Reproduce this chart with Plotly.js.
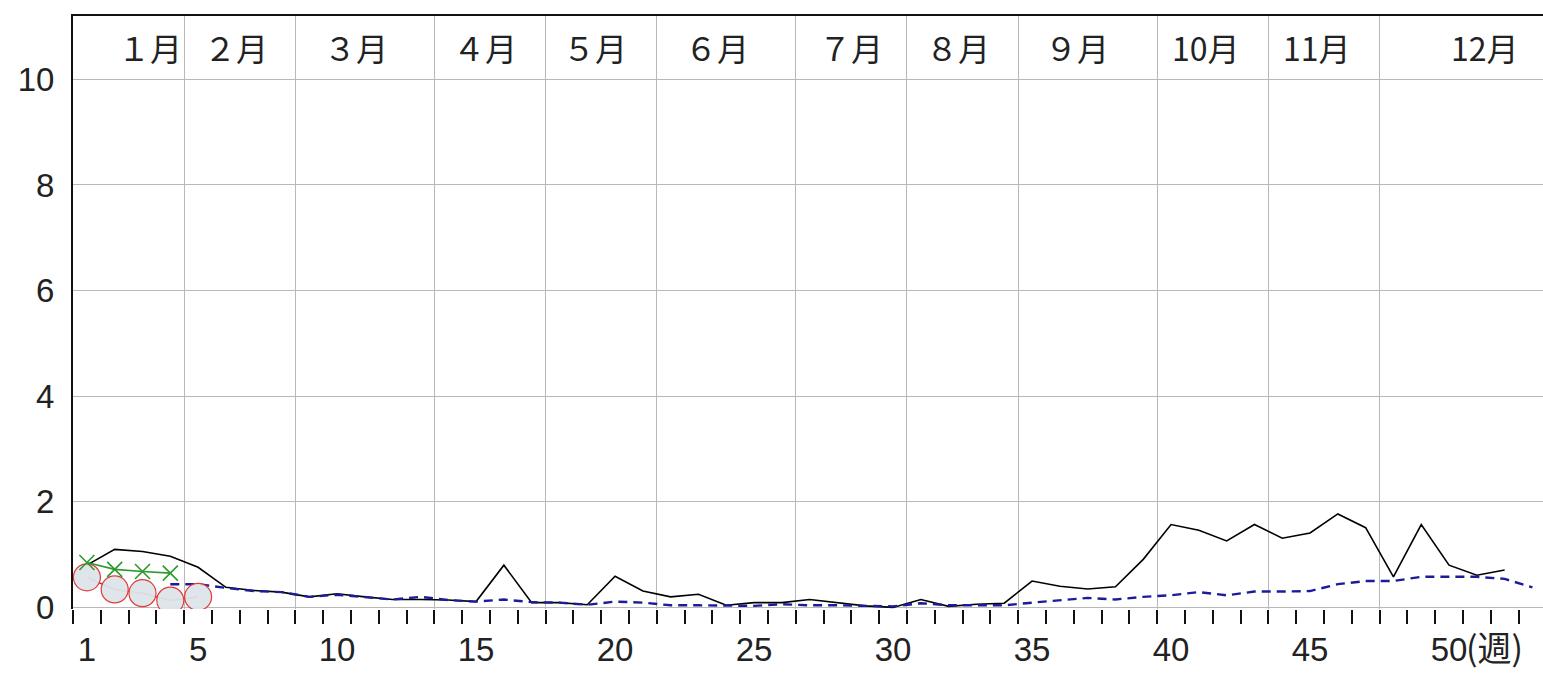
<!DOCTYPE html>
<html>
<head>
<meta charset="utf-8">
<script src="https://cdn.plot.ly/plotly-3.0.1.min.js"></script>
<style>
html,body{margin:0;padding:0;background:#fff;}
#chart{width:1543px;height:677px;}
</style>
</head>
<body>
<div id="chart"></div>
<script>
// ---- data (weekly values) ----
const blackValues = [0.80,1.10,1.06,0.97,0.76,0.38,0.32,0.29,0.20,0.26,0.20,0.15,0.15,0.14,0.11,0.80,0.09,0.09,0.05,0.59,0.31,0.20,0.25,0.04,0.09,0.09,0.15,0.09,0.03,0.00,0.15,0.02,0.06,0.08,0.50,0.40,0.35,0.39,0.91,1.57,1.46,1.26,1.57,1.31,1.41,1.77,1.51,0.58,1.57,0.80,0.61,0.71];
const blackStartWeek = 1;
const blueValues = [0.44,0.44,0.37,0.31,0.29,0.20,0.24,0.19,0.15,0.20,0.14,0.11,0.15,0.10,0.09,0.05,0.11,0.09,0.04,0.04,0.04,0.03,0.06,0.04,0.04,0.03,0.02,0.08,0.04,0.04,0.04,0.09,0.14,0.18,0.15,0.20,0.23,0.29,0.23,0.30,0.30,0.31,0.44,0.50,0.50,0.58,0.58,0.58,0.54,0.38];
const blueStartWeek = 4;
const redValues = [0.57,0.34,0.27,0.13,0.20];
const redStartWeek = 1;
const greenValues = [0.85,0.72,0.68,0.65];
const greenStartWeek = 1;

const monthLabels = ["１月","２月","３月","４月","５月","６月","７月","８月","９月","10月","11月","12月"];
const monthBoundaries = [4.5,8.5,13.5,17.5,21.5,26.5,30.5,34.5,39.5,43.5,47.5];
const xTickVals = [1,5,10,15,20,25,30,35,40,45,50];
const xTickText = ["1","5","10","15","20","25","30","35","40","45","50"];
const xUnitLabel = "(週)";
const yTickVals = [0,2,4,6,8,10];

// ---- layout configuration ----
const monthLabelX = [3.27,6.36,10.68,15.32,19.28,23.67,28.49,32.33,36.62,41.26,45.25,51.29];
const xRange = [0.5, 53.38];
const yRange = [-0.03, 11.2];

function weeks(start, n){ const a=[]; for(let i=0;i<n;i++) a.push(start+i); return a; }

const numFont = {family:"'Liberation Sans',Arial,sans-serif", size:33, color:"#222"};

const traces = [
  {x: weeks(blackStartWeek, blackValues.length), y: blackValues, xaxis:'x', yaxis:'y', mode:'lines',
   line:{color:'#000', width:1.6}, hoverinfo:'skip', showlegend:false},
  {x: weeks(blueStartWeek, blueValues.length), y: blueValues, xaxis:'x2', yaxis:'y', mode:'lines',
   line:{color:'#1c1c9a', width:2.4, dash:'9px,6px'}, hoverinfo:'skip', showlegend:false},
  {x: weeks(redStartWeek, redValues.length), y: redValues, xaxis:'x3', yaxis:'y', mode:'lines+markers',
   line:{color:'#d42020', width:1.5},
   marker:{symbol:'circle', size:27, color:'rgba(220,228,234,0.95)', line:{color:'#e03a3a', width:1.2}},
   hoverinfo:'skip', showlegend:false},
  {x: weeks(greenStartWeek, greenValues.length), y: greenValues, xaxis:'x3', yaxis:'y', mode:'lines+markers',
   line:{color:'#2c9a2c', width:1.6},
   marker:{symbol:'x-thin-open', size:15, color:'#2c9a2c', line:{color:'#2c9a2c', width:1.6}},
   hoverinfo:'skip', showlegend:false}
];

const annotations = monthLabels.map((t,i)=>({
  text:t, x:monthLabelX[i], y:10.62, xref:'x', yref:'y', showarrow:false,
  xanchor:'center', yanchor:'middle',
  font:{family:"'Noto Sans CJK JP',sans-serif", size:32, color:'#222'}
}));
annotations.push({
  text:xUnitLabel, x:50.55, xref:'x', y:-0.063, yref:'paper', showarrow:false,
  xanchor:'left', yanchor:'middle',
  font:{family:"'Noto Sans CJK JP',sans-serif", size:34, color:'#222'}
});

const layout = {
  width:1543, height:677,
  margin:{l:73, r:0, t:16, b:68, pad:0},
  paper_bgcolor:'#fff', plot_bgcolor:'#fff',
  showlegend:false,
  xaxis:{range:xRange, tickmode:'linear', tick0:0.5, dtick:1, ticks:'outside', ticklen:14, tickwidth:2,
         tickcolor:'#111', showticklabels:false, showgrid:false, zeroline:false, showline:false, fixedrange:true},
  xaxis2:{range:xRange, overlaying:'x', side:'top', anchor:'y', tickmode:'array', tickvals:monthBoundaries,
          ticks:'', showticklabels:false, showgrid:true, gridcolor:'#b8b8b8', gridwidth:1,
          zeroline:false, showline:true, linecolor:'#111', linewidth:2, fixedrange:true},
  xaxis3:{range:xRange, overlaying:'x', side:'bottom', anchor:'y', tickmode:'array', tickvals:xTickVals,
          ticktext:xTickText, ticks:'', showgrid:false, zeroline:false, showline:false,
          tickfont:numFont, ticklabelstandoff:18, fixedrange:true},
  yaxis:{range:yRange, tickmode:'array', tickvals:yTickVals, ticks:'', showgrid:true, gridcolor:'#b8b8b8',
         gridwidth:1, zeroline:false, showline:true, linecolor:'#111', linewidth:2,
         tickfont:numFont, ticklabelstandoff:10, fixedrange:true},
  annotations:annotations
};

Plotly.newPlot('chart', traces, layout, {staticPlot:true, displayModeBar:false});
</script>
</body>
</html>
